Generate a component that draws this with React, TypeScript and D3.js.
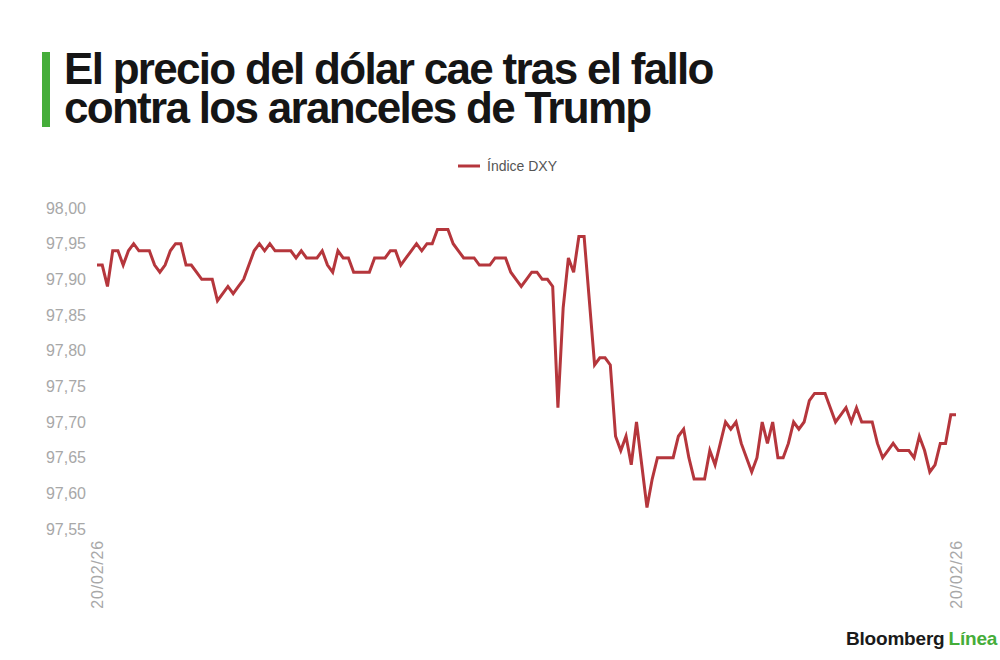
import React from 'react';
import * as d3 from 'd3';

// Intraday DXY readings (one value every ~5px)
const dxyValues: number[] = [
  97.92, 97.92, 97.89, 97.94, 97.94, 97.92, 97.94, 97.95, 97.94, 97.94,
  97.94, 97.92, 97.91, 97.92, 97.94, 97.95, 97.95, 97.92, 97.92, 97.91,
  97.90, 97.90, 97.90, 97.87, 97.88, 97.89, 97.88, 97.89, 97.90, 97.92,
  97.94, 97.95, 97.94, 97.95, 97.94, 97.94, 97.94, 97.94, 97.93, 97.94,
  97.93,
  97.93, 97.93, 97.94, 97.92, 97.91, 97.94, 97.93, 97.93, 97.91, 97.91,
  97.91, 97.91, 97.93, 97.93, 97.93, 97.94, 97.94, 97.92, 97.93, 97.94,
  97.95, 97.94, 97.95, 97.95, 97.97, 97.97, 97.97, 97.95, 97.94, 97.93,
  97.93, 97.93, 97.92, 97.92, 97.92, 97.93, 97.93, 97.93, 97.91, 97.90,
  97.89, 97.90, 97.91, 97.91, 97.90, 97.90, 97.89,
  97.72, 97.86, 97.93, 97.91, 97.96, 97.96, 97.87, 97.78, 97.79, 97.79,
  97.78, 97.68, 97.66, 97.68, 97.64, 97.70, 97.64, 97.58, 97.62, 97.65,
  97.65, 97.65, 97.65, 97.68, 97.69, 97.65, 97.62, 97.62, 97.62, 97.66,
  97.64, 97.67, 97.70, 97.69, 97.70, 97.67, 97.65, 97.63, 97.65, 97.70,
  97.67, 97.70, 97.65, 97.65, 97.67, 97.70, 97.69, 97.70, 97.73, 97.74,
  97.74, 97.74, 97.72, 97.70, 97.71, 97.72, 97.70, 97.72, 97.70, 97.70,
  97.70, 97.67, 97.65, 97.66, 97.67, 97.66, 97.66, 97.66, 97.65, 97.68,
  97.66, 97.63, 97.64, 97.67, 97.67, 97.71, 97.71,
];

const yTicks: number[] = [97.55, 97.6, 97.65, 97.7, 97.75, 97.8, 97.85, 97.9, 97.95, 98.0];
const xTickLabels: string[] = ['20/02/26', '20/02/26'];
const titleLines: string[] = ['El precio del dólar cae tras el fallo', 'contra los aranceles de Trump'];
const seriesName = 'Índice DXY';

const W = 1000;
const H = 660;
const LINE_COLOR = '#b5363c';
const GREEN = '#45ad3a';
const FONT = '"Liberation Sans", Arial, sans-serif';

export default function App() {
  const x = d3.scaleLinear().domain([0, dxyValues.length - 1]).range([97, 956]);
  const y = d3.scaleLinear().domain([97.55, 98.0]).range([529, 208]);

  const line = d3
    .line<number>()
    .x((_, i) => x(i))
    .y((d) => y(d));

  const fmt = (v: number) => v.toFixed(2).replace('.', ',');
  const xTickIdx = [0, dxyValues.length - 1];

  return (
    <svg
      width={W}
      height={H}
      style={{ position: 'absolute', left: 0, top: 0, background: '#fff' }}
      fontFamily={FONT}
    >
      <rect width={W} height={H} fill="#fff" />

      {/* title */}
      <rect x={42} y={52} width={8} height={75} fill={GREEN} />
      {titleLines.map((t, i) => (
        <text
          key={i}
          x={64}
          y={84 + i * 39}
          fontSize={44}
          fontWeight="bold"
          letterSpacing={-1.7}
          fill="#151515"
        >
          {t}
        </text>
      ))}

      {/* legend */}
      <line x1={458} x2={480} y1={166} y2={166} stroke={LINE_COLOR} strokeWidth={3} />
      <text x={487} y={171} fontSize={14} fill="#555">
        {seriesName}
      </text>

      {/* y axis labels */}
      {yTicks.map((t) => (
        <text key={t} x={86} y={y(t)} dy="0.35em" textAnchor="end" fontSize={16} fill="#a8a8a8">
          {fmt(t)}
        </text>
      ))}

      {/* x axis labels */}
      {xTickIdx.map((idx, i) => (
        <text
          key={i}
          transform={`translate(${x(idx)},540) rotate(-90)`}
          dy="0.35em"
          textAnchor="end"
          fontSize={16}
          letterSpacing={0.8}
          fill="#a8a8a8"
        >
          {xTickLabels[i]}
        </text>
      ))}

      {/* series */}
      <path
        d={line(dxyValues) || ''}
        fill="none"
        stroke={LINE_COLOR}
        strokeWidth={3}
        strokeLinejoin="miter"
      />

      {/* logo */}
      <text x={846} y={645} fontSize={19} fontWeight="bold" letterSpacing={-0.2}>
        <tspan fill="#1a1a1a">Bloomberg</tspan>
        <tspan fill={GREEN} dx={4}>Línea</tspan>
      </text>
    </svg>
  );
}
